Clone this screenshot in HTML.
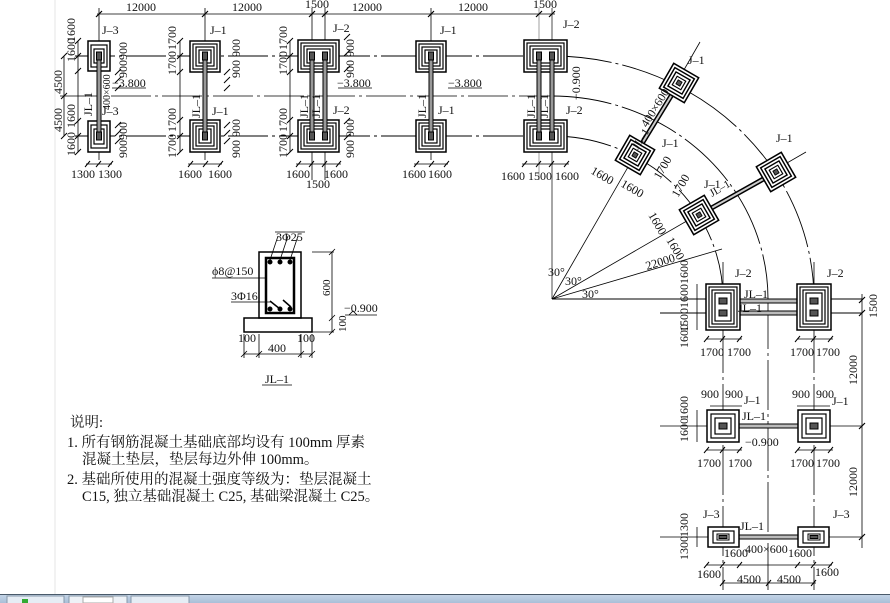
<!DOCTYPE html>
<html><head><meta charset="utf-8"><style>
html,body{margin:0;padding:0;background:#fff;width:890px;height:603px;overflow:hidden}
svg{display:block}
text{font-family:"Liberation Serif","Noto Serif CJK SC",serif;font-size:12px;fill:#111}
.n{font-family:"Liberation Serif","Noto Serif CJK SC",serif;font-size:14.5px;fill:#111}
</style></head><body>
<svg width="890" height="603" viewBox="0 0 890 603" xmlns="http://www.w3.org/2000/svg">
<defs>
<g id="rf">
<rect x="-16" y="-16" width="32" height="32" fill="#fff" stroke="#000" stroke-width="1.7"/>
<rect x="-12.5" y="-12.5" width="25" height="25" fill="none" stroke="#000" stroke-width="1.6"/>
<rect x="-9" y="-9" width="18" height="18" fill="none" stroke="#000" stroke-width="1.6"/>
<rect x="-5.5" y="-5.5" width="11" height="11" fill="none" stroke="#000" stroke-width="1.3"/>
<rect x="-2.5" y="-2.5" width="5" height="5" fill="#555" stroke="#000"/>
</g>
</defs>
<g stroke="#000" fill="none" stroke-width="1">
<line x1="55" y1="0" x2="55" y2="594" stroke="#e4e4e4"/>
<line x1="75" y1="56" x2="552" y2="56" stroke-dasharray="40,4,3,4"/>
<line x1="60" y1="96" x2="552" y2="96" stroke-dasharray="40,4,3,4" stroke-width="0.8"/>
<line x1="75" y1="136" x2="552" y2="136" stroke-dasharray="40,4,3,4"/>
<line x1="97" y1="14" x2="555" y2="14" stroke-width="0.8"/>
<g stroke-width="0.8">
<line x1="99" y1="8" x2="99" y2="160"/><line x1="205" y1="8" x2="205" y2="160"/>
<line x1="312" y1="8" x2="312" y2="180"/><line x1="325" y1="8" x2="325" y2="180"/>
<line x1="431" y1="8" x2="431" y2="160"/>
<line x1="539" y1="8" x2="539" y2="180" stroke="#888"/><line x1="552" y1="8" x2="552" y2="299" stroke="#888" stroke-width="1.5"/>
</g>
<g stroke-width="1.2">
<path d="M96 17l6-6M202 17l6-6M309 17l6-6M322 17l6-6M428 17l6-6M536 17l6-6M549 17l6-6"/>
</g>
<path d="M552 56 A262 244 0 0 1 814 299" stroke-dasharray="60,4,3,4" stroke-width="0.9"/>
<path d="M552 96 A216 203 0 0 1 768 299" stroke-dasharray="60,4,3,4" stroke-width="0.9"/>
<path d="M552 136 A171 163 0 0 1 723 299" stroke-dasharray="60,4,3,4" stroke-width="0.9"/>
<line x1="552" y1="299" x2="700" y2="42" stroke-width="0.8"/>
<line x1="552" y1="299" x2="806" y2="152" stroke-width="0.8"/>
<line x1="552" y1="299" x2="722" y2="249" stroke-width="0.8"/>
<line x1="552" y1="299" x2="862" y2="299" stroke-width="0.9"/>
<line x1="660" y1="313" x2="862" y2="313" stroke-width="0.9"/>
<line x1="723" y1="262" x2="723" y2="590" stroke-dasharray="50,4,3,4" stroke-width="0.8"/>
<line x1="768" y1="299" x2="768" y2="590" stroke-dasharray="50,4,3,4" stroke-width="0.8"/>
<line x1="814" y1="262" x2="814" y2="590" stroke-dasharray="50,4,3,4" stroke-width="0.8"/>
<line x1="660" y1="426" x2="862" y2="426" stroke-width="0.8"/>
<line x1="660" y1="537" x2="862" y2="537" stroke-width="0.8"/>
<line x1="862" y1="294" x2="862" y2="548" stroke-width="0.8"/>
<path d="M859 303l6-6M859 429l6-6M859 540l6-6M859 316l6-6" stroke-width="1.2"/>
<line x1="706" y1="565" x2="832" y2="565" stroke-width="0.8"/>
<line x1="722" y1="583" x2="816" y2="583" stroke-width="0.8"/>
<line x1="706" y1="339" x2="742" y2="339" stroke-width="0.8"/>
<line x1="797" y1="339" x2="833" y2="339" stroke-width="0.8"/>
<line x1="706" y1="450" x2="742" y2="450" stroke-width="0.8"/>
<line x1="797" y1="450" x2="833" y2="450" stroke-width="0.8"/>
<line x1="710" y1="406" x2="742" y2="406" stroke-width="0.8"/>
<line x1="797" y1="406" x2="830" y2="406" stroke-width="0.8"/>
<path d="M704 342l5-6M720 342l5-6M737 342l5-6M795 342l5-6M811 342l5-6M828 342l5-6M704 453l5-6M720 453l5-6M737 453l5-6M795 453l5-6M811 453l5-6M828 453l5-6M704 568l5-6M720 568l5-6M737 568l5-6M795 568l5-6M811 568l5-6M828 568l5-6M720 586l5-6M766 586l5-6M811 586l5-6"/>
<line x1="697" y1="284" x2="697" y2="330" stroke-width="0.8"/>
<line x1="697" y1="410" x2="697" y2="442" stroke-width="0.8"/>
<line x1="697" y1="527" x2="697" y2="547" stroke-width="0.8"/>
<line x1="78" y1="41" x2="78" y2="152" stroke-width="0.8"/>
<line x1="64" y1="56" x2="64" y2="136" stroke-width="0.8"/>
<line x1="180" y1="41" x2="180" y2="152" stroke-width="0.8"/>
<line x1="290" y1="41" x2="290" y2="152" stroke-width="0.8"/>
<path d="M75 44l6-6M75 59l6-6M75 74l6-6M75 124l6-6M75 139l6-6M75 155l6-6M61 59l6-6M61 99l6-6M61 139l6-6M177 44l6-6M177 59l6-6M177 75l6-6M177 123l6-6M177 139l6-6M177 155l6-6M287 44l6-6M287 59l6-6M287 75l6-6M287 123l6-6M287 139l6-6M287 155l6-6"/>
<line x1="86" y1="164" x2="112" y2="164" stroke-width="0.8"/>
<line x1="188" y1="164" x2="222" y2="164" stroke-width="0.8"/>
<line x1="296" y1="164" x2="341" y2="164" stroke-width="0.8"/>
<line x1="414" y1="164" x2="448" y2="164" stroke-width="0.8"/>
<line x1="522" y1="164" x2="569" y2="164" stroke-width="0.8"/>
<path d="M85 167l5-6M96 167l5-6M108 167l5-6M188 167l5-6M203 167l5-6M218 167l5-6M296 167l5-6M309 167l5-6M322 167l5-6M336 167l5-6M414 167l5-6M429 167l5-6M444 167l5-6M522 167l5-6M536 167l5-6M549 167l5-6M564 167l5-6"/>
<path d="M115 75l6-6M115 83l6-6M115 91l6-6M224 75l6-6M224 83l6-6M224 91l6-6M344 40l6-6M344 56l6-6M344 72l6-6M115 128l6-6M115 136l6-6M115 144l6-6M224 128l6-6M224 136l6-6M224 144l6-6M344 124l6-6M344 140l6-6"/>
<path d="M112 88h34M338 88h34M448 88h34" stroke-width="0.8"/>
</g>
<g stroke="#000" fill="#fff">
<g stroke-width="1.5">
<rect x="88" y="41" width="22" height="30"/><rect x="88" y="121" width="22" height="31"/>
<rect x="190" y="41" width="30" height="31"/><rect x="190" y="120" width="30" height="32"/>
<rect x="298" y="40" width="41" height="32"/><rect x="298" y="120" width="41" height="32"/>
<rect x="416" y="41" width="30" height="31"/><rect x="416" y="120" width="30" height="32"/>
<rect x="524" y="40" width="43" height="32"/><rect x="524" y="120" width="43" height="32"/>
</g>
<g fill="none" stroke-width="1.2">
<rect x="91" y="45" width="16" height="22"/><rect x="94" y="49" width="10" height="14"/>
<rect x="91" y="125" width="16" height="23"/><rect x="94" y="129" width="10" height="15"/>
<rect x="193" y="44" width="24" height="25"/><rect x="196" y="47" width="18" height="19"/><rect x="199" y="50" width="12" height="13"/>
<rect x="193" y="123" width="24" height="26"/><rect x="196" y="126" width="18" height="20"/><rect x="199" y="129" width="12" height="14"/>
<rect x="301" y="43" width="35" height="26"/><rect x="304" y="46" width="29" height="20"/><rect x="307" y="49" width="23" height="14"/>
<rect x="301" y="123" width="35" height="26"/><rect x="304" y="126" width="29" height="20"/><rect x="307" y="129" width="23" height="14"/>
<rect x="419" y="44" width="24" height="25"/><rect x="422" y="47" width="18" height="19"/><rect x="425" y="50" width="12" height="13"/>
<rect x="419" y="123" width="24" height="26"/><rect x="422" y="126" width="18" height="20"/><rect x="425" y="129" width="12" height="14"/>
<rect x="527" y="43" width="37" height="26"/><rect x="530" y="46" width="31" height="20"/><rect x="533" y="49" width="25" height="14"/>
<rect x="527" y="123" width="37" height="26"/><rect x="530" y="126" width="31" height="20"/><rect x="533" y="129" width="25" height="14"/>
</g>
<g fill="#999" stroke-width="1">
<rect x="97" y="60" width="4" height="72"/><rect x="203" y="60" width="4" height="72"/>
<rect x="310" y="60" width="4" height="72"/><rect x="323" y="60" width="4" height="72"/>
<rect x="429" y="60" width="4" height="72"/><rect x="537" y="60" width="4" height="72"/><rect x="550" y="60" width="4" height="72"/>
</g>
<g fill="#555" stroke-width="1">
<rect x="96.5" y="52" width="5" height="8"/><rect x="96.5" y="132" width="5" height="8"/>
<rect x="202.5" y="52" width="5" height="8"/><rect x="202.5" y="132" width="5" height="8"/>
<rect x="309.5" y="52" width="5" height="8"/><rect x="322.5" y="52" width="5" height="8"/>
<rect x="309.5" y="132" width="5" height="8"/><rect x="322.5" y="132" width="5" height="8"/>
<rect x="428.5" y="52" width="5" height="8"/><rect x="428.5" y="132" width="5" height="8"/>
<rect x="536.5" y="52" width="5" height="8"/><rect x="549.5" y="52" width="5" height="8"/>
<rect x="536.5" y="132" width="5" height="8"/><rect x="549.5" y="132" width="5" height="8"/>
</g>
</g>
<g stroke="#000">
<line x1="635" y1="155" x2="679" y2="83" stroke-width="5"/>
<line x1="635" y1="155" x2="679" y2="83" stroke-width="2" stroke="#ccc"/>
<line x1="699" y1="215" x2="776" y2="172" stroke-width="5"/>
<line x1="699" y1="215" x2="776" y2="172" stroke-width="2" stroke="#ccc"/>
</g>
<use href="#rf" transform="translate(635,155) rotate(30) scale(0.9)"/>
<use href="#rf" transform="translate(679,83) rotate(30) scale(0.9)"/>
<use href="#rf" transform="translate(699,215) rotate(-30) scale(0.9)"/>
<use href="#rf" transform="translate(776,172) rotate(-30) scale(0.9)"/>
<g stroke="#000" fill="#fff">
<rect x="740" y="299" width="57" height="4" fill="#bbb"/><rect x="740" y="311" width="57" height="4" fill="#bbb"/>
<rect x="739" y="424" width="59" height="4" fill="#bbb"/><rect x="739" y="535" width="59" height="4" fill="#bbb"/>
<g stroke-width="1.5">
<rect x="706" y="284" width="34" height="46"/><rect x="797" y="284" width="34" height="46"/>
<rect x="707" y="410" width="32" height="32"/><rect x="798" y="410" width="32" height="32"/>
<rect x="708" y="527" width="31" height="20"/><rect x="798" y="527" width="31" height="20"/>
</g>
<g fill="none" stroke-width="1.2">
<rect x="709" y="287" width="28" height="40"/><rect x="712" y="290" width="22" height="34"/><rect x="715" y="293" width="16" height="28"/>
<rect x="800" y="287" width="28" height="40"/><rect x="803" y="290" width="22" height="34"/><rect x="806" y="293" width="16" height="28"/>
<rect x="711" y="414" width="24" height="24"/><rect x="715" y="418" width="16" height="16"/>
<rect x="802" y="414" width="24" height="24"/><rect x="806" y="418" width="16" height="16"/>
<rect x="713" y="531" width="21" height="12"/><rect x="803" y="531" width="21" height="12"/>
</g>
<g fill="#555">
<rect x="719" y="298" width="8" height="6"/><rect x="719" y="310" width="8" height="6"/>
<rect x="810" y="298" width="8" height="6"/><rect x="810" y="310" width="8" height="6"/>
<rect x="719" y="423" width="8" height="6"/><rect x="810" y="423" width="8" height="6"/>
<rect x="717" y="534" width="12" height="6" fill="#fff"/><rect x="719" y="535.5" width="8" height="3"/>
<rect x="808" y="534" width="12" height="6" fill="#fff"/><rect x="810" y="535.5" width="8" height="3"/>
</g>
</g>
<g stroke="#000" fill="none">
<rect x="259" y="252" width="42" height="66" stroke-width="1.5"/>
<rect x="244" y="318" width="68" height="14" stroke-width="1.5"/>
<rect x="266" y="258" width="28" height="55" stroke-width="2.5"/>
<circle cx="270" cy="262" r="2" fill="#000"/><circle cx="280" cy="262" r="2" fill="#000"/><circle cx="290" cy="262" r="2" fill="#000"/>
<circle cx="270" cy="309" r="2" fill="#000"/><circle cx="280" cy="309" r="2" fill="#000"/><circle cx="290" cy="309" r="2" fill="#000"/>
<path d="M270 301l10 8M283 300l8 7" stroke-width="1.5"/>
<path d="M275 232h30M270 260l8-24M280 260l8-24M290 260l8-24" stroke-width="0.8"/>
<path d="M212 278h54M231 302h40" stroke-width="0.8"/>
<path d="M312 252h22M312 332h22M332 252v80M329 255l6-6M329 321l6-6M329 335l6-6" stroke-width="0.8"/>
<path d="M244 334v24M259 334v24M301 334v24M312 334v24M244 354h68M241 357l6-6M256 357l6-6M298 357l6-6M309 357l6-6" stroke-width="0.8"/>
<path d="M345 315h32M349 315l4-4 4 4" stroke-width="0.8"/>
<path d="M262 385h30" stroke-width="0.8"/>
</g>
<text x="126" y="11">12000</text><text x="232" y="11">12000</text>
<text x="305" y="8">1500</text><text x="352" y="11">12000</text>
<text x="458" y="11">12000</text><text x="533" y="8">1500</text>
<text x="102" y="34">J–3</text><text x="210" y="34">J–1</text><text x="333" y="32">J–2</text>
<text x="440" y="34">J–1</text><text x="563" y="28">J–2</text>
<text x="102" y="115">J–3</text><text x="212" y="115">J–1</text><text x="333" y="114">J–2</text>
<text x="438" y="114">J–1</text><text x="566" y="114">J–2</text>
<text x="112" y="87">−3.800</text><text x="337" y="87">−3.800</text><text x="448" y="87">−3.800</text>
<text x="71" y="178">1300</text><text x="98" y="178">1300</text>
<text x="178" y="178">1600</text><text x="208" y="178">1600</text>
<text x="286" y="178">1600</text><text x="324" y="178">1600</text><text x="306" y="188">1500</text>
<text x="402" y="178">1600</text><text x="428" y="178">1600</text>
<text x="501" y="180">1600</text><text x="528" y="180">1500</text><text x="555" y="180">1600</text>
<g font-size="11">
<text transform="translate(75,62) rotate(-90)">1600</text><text transform="translate(75,42) rotate(-90)">1600</text>
<text transform="translate(62,94) rotate(-90)">4500</text><text transform="translate(62,132) rotate(-90)">4500</text>
<text transform="translate(75,156) rotate(-90)">1600</text><text transform="translate(75,128) rotate(-90)">1600</text>
<text transform="translate(176,75) rotate(-90)">1700</text><text transform="translate(176,50) rotate(-90)">1700</text>
<text transform="translate(176,158) rotate(-90)">1700</text><text transform="translate(176,132) rotate(-90)">1700</text>
<text transform="translate(287,75) rotate(-90)">1700</text><text transform="translate(287,50) rotate(-90)">1700</text>
<text transform="translate(287,158) rotate(-90)">1700</text><text transform="translate(287,132) rotate(-90)">1700</text>
<text transform="translate(127,78) rotate(-90)">900900</text><text transform="translate(127,158) rotate(-90)">900900</text>
<text transform="translate(240,78) rotate(-90)">900 900</text><text transform="translate(240,158) rotate(-90)">900 900</text>
<text transform="translate(354,78) rotate(-90)">900 900</text><text transform="translate(354,158) rotate(-90)">900 900</text>
<text transform="translate(110,110) rotate(-90)" style="font-size:10px">400×600</text>
<text transform="translate(92,116) rotate(-90)">JL–1</text><text transform="translate(200,118) rotate(-90)">JL–1</text>
<text transform="translate(308,118) rotate(-90)">JL–1</text><text transform="translate(320,118) rotate(-90)">JL–1</text>
<text transform="translate(426,118) rotate(-90)">JL–1</text><text transform="translate(535,118) rotate(-90)">JL–1</text>
<text transform="translate(548,118) rotate(-90)">JL–1</text>
<text transform="translate(580,100) rotate(-90)">−0.900</text>
</g>
<text x="688" y="64">J–1</text><text x="776" y="142">J–1</text>
<text x="662" y="147">J–1</text><text x="704" y="188">J–1</text>
<text transform="translate(647,128) rotate(-58)">400×600</text>
<text transform="translate(638,150) rotate(-58)" style="font-size:11px">JL–1</text>
<text transform="translate(712,197) rotate(-30)" style="font-size:11px">JL–1</text>
<text transform="translate(590,173) rotate(30)">1600</text><text transform="translate(620,186) rotate(30)">1600</text>
<text transform="translate(660,180) rotate(-60)">1700</text><text transform="translate(678,198) rotate(-60)">1700</text>
<text transform="translate(648,215) rotate(60)">1600</text><text transform="translate(666,240) rotate(60)">1600</text>
<text transform="translate(647,270) rotate(-17)">22000</text>
<text x="548" y="276">30°</text><text x="565" y="285">30°</text><text x="582" y="298">30°</text>
<text x="735" y="277">J–2</text><text x="827" y="277">J–2</text>
<text x="744" y="298">JL–1</text><text x="738" y="312">JL–1</text>
<text x="700" y="356">1700</text><text x="727" y="356">1700</text>
<text x="790" y="356">1700</text><text x="816" y="356">1700</text>
<text x="701" y="398">900</text><text x="725" y="398">900</text>
<text x="792" y="398">900</text><text x="816" y="398">900</text>
<text x="744" y="404">J–1</text><text x="832" y="405">J–1</text>
<text x="742" y="420">JL–1</text><text x="745" y="446">−0.900</text>
<text x="697" y="467">1700</text><text x="728" y="467">1700</text>
<text x="790" y="467">1700</text><text x="816" y="467">1700</text>
<text x="703" y="518">J–3</text><text x="833" y="518">J–3</text>
<text x="740" y="530">JL–1</text><text x="745" y="553">400×600</text>
<text x="724" y="557">1600</text><text x="788" y="557">1600</text>
<text x="697" y="578">1600</text><text x="815" y="576">1600</text>
<text x="737" y="583">4500</text><text x="777" y="583">4500</text>
<text transform="translate(688,308) rotate(-90)">1600</text><text transform="translate(688,284) rotate(-90)">1600</text>
<text transform="translate(688,332) rotate(-90)">1500</text>
<text transform="translate(688,348) rotate(-90)">1600</text>
<text transform="translate(688,442) rotate(-90)">1600</text><text transform="translate(688,420) rotate(-90)">1600</text>
<text transform="translate(688,560) rotate(-90)">1300</text><text transform="translate(688,537) rotate(-90)">1300</text>
<text transform="translate(877,318) rotate(-90)">1500</text>
<text transform="translate(857,385) rotate(-90)">12000</text>
<text transform="translate(857,497) rotate(-90)">12000</text>
<text x="276" y="241">3Φ25</text>
<text x="212" y="275">ϕ8@150</text>
<text x="231" y="300">3Φ16</text>
<text transform="translate(330,296) rotate(-90)" style="font-size:11px">600</text>
<text transform="translate(346,332) rotate(-90)" style="font-size:11px">100</text>
<text x="344" y="312">−0.900</text>
<text x="238" y="342">100</text><text x="268" y="352">400</text><text x="297" y="342">100</text>
<text x="265" y="383">JL–1</text>
<text class="n" x="70" y="427">说明:</text>
<text class="n" x="67" y="447">1. 所有钢筋混凝土基础底部均设有 100mm 厚素</text>
<text class="n" x="82" y="464">混凝土垫层，垫层每边外伸 100mm。</text>
<text class="n" x="67" y="484">2. 基础所使用的混凝土强度等级为：垫层混凝土</text>
<text class="n" x="82" y="501">C15, 独立基础混凝土 C25, 基础梁混凝土 C25。</text>
<defs><linearGradient id="tb" x1="0" y1="0" x2="0" y2="1"><stop offset="0" stop-color="#c6d6e8"/><stop offset="1" stop-color="#a9bfd8"/></linearGradient></defs>
<rect x="0" y="594" width="890" height="9" fill="url(#tb)"/>
<line x1="0" y1="594.5" x2="890" y2="594.5" stroke="#4a5a6a"/>
<rect x="7" y="596" width="57" height="8" fill="#e6edf5" stroke="#8899aa"/>
<rect x="69" y="596" width="58" height="8" fill="#eef2f7" stroke="#8899aa"/>
<rect x="131" y="596" width="58" height="8" fill="#e6edf5" stroke="#8899aa"/>
<rect x="22" y="599" width="6" height="4" fill="#3a3"/>
<rect x="83" y="597" width="30" height="6" fill="#fff" stroke="#aaa"/>
</svg>
</body></html>
